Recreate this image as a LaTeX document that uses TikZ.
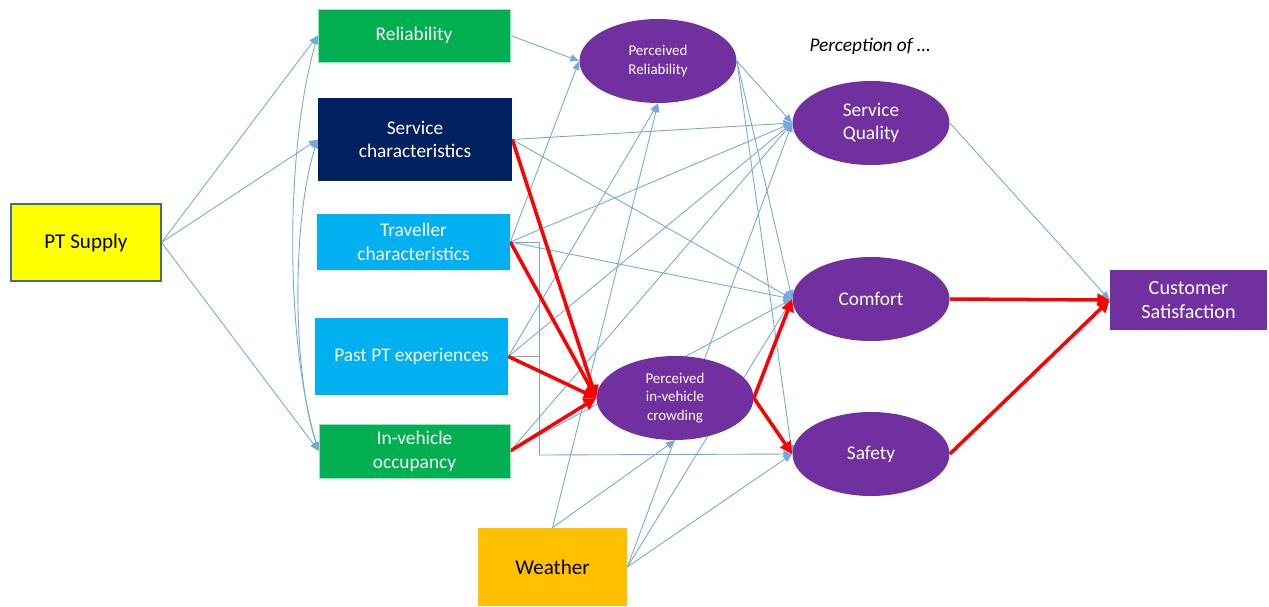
\documentclass[tikz,border=0pt]{standalone}
\usepackage{fontspec}
\setmainfont{Carlito}
\usetikzlibrary{arrows.meta,shapes.geometric,backgrounds}
\definecolor{ptyellow}{HTML}{FFFF00}
\definecolor{ptgreen}{HTML}{00B050}
\definecolor{ptnavy}{HTML}{002060}
\definecolor{ptcyan}{HTML}{00B0F0}
\definecolor{ptorange}{HTML}{FFC000}
\definecolor{ptpurple}{HTML}{7030A0}
\definecolor{linkblue}{HTML}{5B9BD5}
\definecolor{linkred}{HTML}{FF0000}
\tikzset{
  box/.style={rectangle, inner sep=0pt, align=center, text=white, font=\fontsize{11}{13.5}\selectfont},
  oval/.style={ellipse, fill=ptpurple, inner sep=0pt, align=center, text=white,
    minimum width=3.14cm, minimum height=1.68cm, font=\fontsize{11}{13.5}\selectfont},
  smalloval/.style={oval, font=\fontsize{8.5}{10.5}\selectfont},
  link/.style={draw=linkblue!85, line width=0.5pt, -{Triangle[length=5pt,width=4pt]}},
  plainlink/.style={draw=linkblue!85, line width=0.5pt},
  corr/.style={draw=linkblue!85, line width=0.5pt, {Triangle[length=5pt,width=4pt]}-{Triangle[length=5pt,width=4pt]}},
  strong/.style={draw=linkred, line width=2pt, -{Triangle[length=7pt,width=7pt]}}
}
\begin{document}
\begin{tikzpicture}[x=0.02cm,y=-0.02cm]
\useasboundingbox (0,0) rectangle (1269,606);

% exogenous boxes
\node[box, fill=ptyellow, draw=linkblue!70!black, line width=0.6pt, text=black,
  minimum width=3.0cm, minimum height=1.54cm, font=\fontsize{12}{14}\selectfont] (pts) at (86,242.5) {PT Supply};
\node[box, fill=ptgreen, draw=ptgreen!40, minimum width=3.84cm, minimum height=1.06cm] (rel) at (414,35.5) {Reliability};
\node[box, fill=ptnavy, minimum width=3.88cm, minimum height=1.66cm] (svc) at (415,139.5) {Service\\characteristics};
\node[box, fill=ptcyan, minimum width=3.86cm, minimum height=1.12cm] (trv) at (413.5,242) {Traveller\\characteristics};
\node[box, fill=ptcyan, minimum width=3.86cm, minimum height=1.54cm] (past) at (411.5,356.5) {Past PT experiences};
\node[box, fill=ptgreen, draw=ptgreen!40, minimum width=3.82cm, minimum height=1.08cm] (inv) at (414.5,451) {In-vehicle\\occupancy};
\node[box, fill=ptorange, text=black, minimum width=2.98cm, minimum height=1.56cm,
  font=\fontsize{12}{14}\selectfont] (wth) at (552.5,567) {Weather};

% perceptions
\node[smalloval] (prel) at (658,61) {Perceived\\Reliability};
\node[smalloval] (crowd) at (675,398) {Perceived\\in-vehicle\\crowding};
\node[oval] (sq) at (871,123) {Service\\Quality};
\node[oval] (cmf) at (871,299) {Comfort};
\node[oval] (saf) at (871,454) {Safety};
\node[font=\itshape\fontsize{11}{13}\selectfont] (perc) at (870,46) {Perception of \dots};

% outcome
\node[box, fill=ptpurple, minimum width=3.14cm, minimum height=1.2cm,
  font=\fontsize{11.5}{14}\selectfont] (cs) at (1188.5,300) {Customer\\Satisfaction};

% elbow collecting traveller and past experience effects on safety
\coordinate (elbowT) at (539,242);
\coordinate (elbowP) at (539,356.5);
\coordinate (elbowB) at (539,455);

\begin{scope}[on background layer]
% PT supply effects
\draw[link] (pts.east) -- (rel.west);
\draw[link] (pts.east) -- (svc.west);
\draw[link] (pts.east) -- (inv.west);
\draw[corr] (rel.west) .. controls (285,150) and (285,340) .. (inv.west);
\draw[corr] (svc.west) .. controls (292,220) and (292,370) .. (inv.west);

% links into perceived reliability
\draw[link] (rel.east) -- (prel.west);
\draw[link] (trv.east) -- (prel.west);
\draw[link] (past.east) -- (prel.south);
\draw[link] (wth.north) -- (prel.south);

% links into service quality
\draw[link] (svc.east) -- (sq.west);
\draw[link] (trv.east) -- (sq.west);
\draw[link] (past.east) -- (sq.west);
\draw[link] (inv.east) -- (sq.west);
\draw[link] (wth.east) -- (sq.west);
\draw[link] (prel.east) -- (sq.west);

% links into comfort
\draw[link] (svc.east) -- (cmf.west);
\draw[link] (trv.east) -- (cmf.west);
\draw[link] (inv.east) -- (cmf.west);
\draw[link] (wth.east) -- (cmf.west);
\draw[link] (prel.east) -- (cmf.west);

% links into safety
\draw[plainlink] (trv.east) -- (elbowT) -- (elbowB);
\draw[plainlink] (past.east) -- (elbowP);
\draw[link] (elbowB) -- (saf.west);
\draw[link] (wth.east) -- (saf.west);
\draw[link] (prel.east) -- (saf.west);

% links into crowding
\draw[link] (wth.north) -- (crowd.south);
\draw[strong] (svc.east) -- (crowd.west);
\draw[strong] (trv.east) -- (crowd.west);
\draw[strong] (past.east) -- (crowd.west);
\draw[strong] (inv.east) -- (crowd.west);
\draw[strong] (crowd.east) -- (cmf.west);
\draw[strong] (crowd.east) -- (saf.west);

% satisfaction
\draw[link] (sq.east) -- (cs.west);
\draw[strong] (cmf.east) -- (cs.west);
\draw[strong] (saf.east) -- (cs.west);
\end{scope}
\end{tikzpicture}
\end{document}
